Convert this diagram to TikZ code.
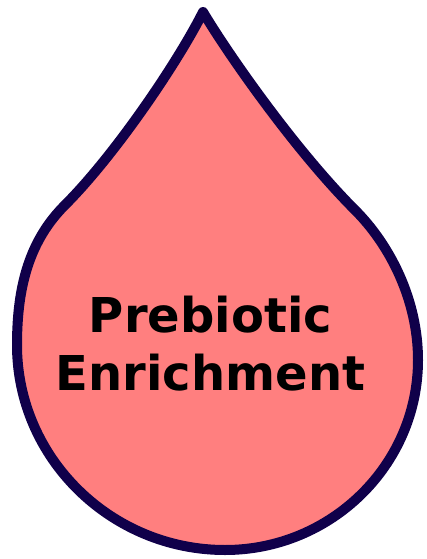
\documentclass[tikz,border=0pt]{standalone}
\usepackage{fontspec}
\setmainfont{DejaVu Sans}
\definecolor{dropline}{HTML}{10004A}
\definecolor{dropfill}{HTML}{FF7F7F}
\tikzset{
  drop/.style={draw=dropline, fill=dropfill, line width=10pt, line join=round},
  label/.style={anchor=base, inner sep=0pt, font=\fontsize{48}{58}\selectfont\bfseries, text=black}
}
\begin{document}
\begin{tikzpicture}[x=1pt,y=-1pt]
\useasboundingbox (0,0) rectangle (426,559);
\path[drop] (203,12)
  .. controls (178,62) and (115,155) .. (65,205)
  .. controls (30,240) and (17,285) .. (17,345)
  .. controls (17,458) and (111,550) .. (225,550)
  .. controls (331,550) and (418,465) .. (418,360)
  .. controls (418,300) and (390,245) .. (355,210)
  .. controls (295,150) and (228,54) .. cycle;
\node[label] (t1) at (210.5,332) {Prebiotic};
\node[label] (t2) at (210.5,390) {Enrichment};
\end{tikzpicture}
\end{document}
